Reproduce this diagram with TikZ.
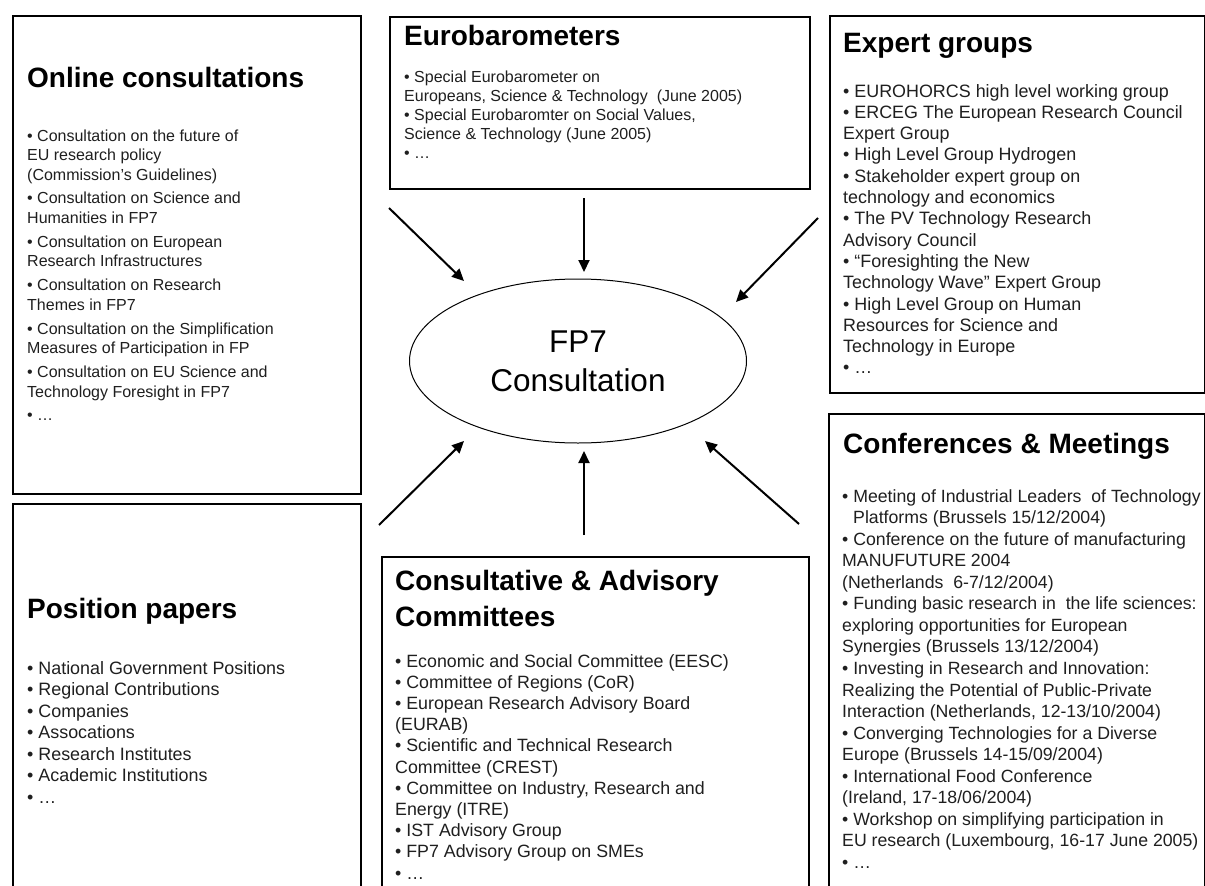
\documentclass[tikz,border=0pt]{standalone}
\usepackage{fontspec}
\setmainfont{Liberation Sans}
\usetikzlibrary{arrows.meta,shapes.geometric}
\newcommand{\mytitle}{\fontsize{28}{36}\selectfont\bfseries}
\tikzset{
  box/.style={draw=black, line width=2.2pt, rectangle, inner sep=0pt, anchor=north west},
  ttl/.style={anchor=base west, inner sep=0pt, font=\mytitle},
  txt/.style={anchor=base west, inner sep=0pt, text=black!88},
  arr/.style={line width=2pt, -{Triangle[length=12pt,width=11pt]}},
}
\begin{document}
\begin{tikzpicture}[x=1pt,y=-1pt]
\useasboundingbox (0,0) rectangle (1205,886);
\clip (0,0) rectangle (1205,886);
\fill[white] (0,0) rectangle (1205,886);

% boxes
\node[box, minimum width=348pt, minimum height=478pt] (online) at (12,15) {};
\node[box, minimum width=348pt, minimum height=397pt] (position) at (12,503) {};
\node[box, minimum width=420pt, minimum height=172pt] (euro) at (389,16) {};
\node[box, minimum width=375pt, minimum height=377pt] (expert) at (829,15) {};
\node[box, minimum width=376pt, minimum height=487pt] (conf) at (828,413) {};
\node[box, minimum width=427pt, minimum height=344pt] (consult) at (381,556) {};

% centre ellipse
\node[ellipse, draw=black, line width=1pt, minimum width=337pt, minimum height=164pt, inner sep=0pt,
      align=center, font=\fontsize{31.5}{39}\selectfont] (fp7) at (578,361) {FP7\\Consultation};

% titles
\node[ttl] (t-online) at (27,87) {Online consultations};
\node[ttl] (t-euro) at (404,45) {Eurobarometers};
\node[ttl] (t-expert) at (843,52) {Expert groups};
\node[ttl] (t-position) at (27,618) {Position papers};
\node[ttl] (t-conf) at (843,453) {Conferences \& Meetings};
\node[ttl] (t-consult) at (395,590) {\parbox[t]{420pt}{\mytitle Consultative \& Advisory\\Committees}};

% bodies
\node[txt] (b-online) at (27,141) {\parbox[t]{330pt}{\raggedright\fontsize{16}{19.5}\selectfont
• Consultation on the future of\\
EU research policy\\
(Commission’s Guidelines)\\[4.4pt]
• Consultation on Science and\\
Humanities in FP7\\[4.4pt]
• Consultation on European\\
Research Infrastructures\\[4.4pt]
• Consultation on Research\\
Themes in FP7\\[4.4pt]
• Consultation on the Simplification\\
Measures of Participation in FP\\[4.4pt]
• Consultation on EU Science and\\
Technology Foresight in FP7\\[4.4pt]
• …}};

\node[txt] (b-euro) at (404,82) {\parbox[t]{400pt}{\raggedright\fontsize{16}{19}\selectfont
• Special Eurobarometer on\\
Europeans, Science \& Technology~ (June 2005)\\
• Special Eurobaromter on Social Values,\\
Science \& Technology (June 2005)\\
• …}};

\node[txt] (b-expert) at (843,97) {\parbox[t]{360pt}{\raggedright\fontsize{17.9}{21.3}\selectfont
• EUROHORCS high level working group\\
• ERCEG The European Research Council\\
Expert Group\\
• High Level Group Hydrogen\\
• Stakeholder expert group on\\
technology and economics\\
• The PV Technology Research\\
Advisory Council\\
• “Foresighting the New\\
Technology Wave” Expert Group\\
• High Level Group on Human\\
Resources for Science and\\
Technology in Europe\\
• …}};

\node[txt] (b-position) at (27,674) {\parbox[t]{330pt}{\raggedright\fontsize{17.9}{21.5}\selectfont
• National Government Positions\\
• Regional Contributions\\
• Companies\\
• Assocations\\
• Research Institutes\\
• Academic Institutions\\
• …}};

\node[txt] (b-consult) at (395,667) {\parbox[t]{410pt}{\raggedright\fontsize{17.8}{21.2}\selectfont
• Economic and Social Committee (EESC)\\
• Committee of Regions (CoR)\\
• European Research Advisory Board\\
(EURAB)\\
• Scientific and Technical Research\\
Committee (CREST)\\
• Committee on Industry, Research and\\
Energy (ITRE)\\
• IST Advisory Group\\
• FP7 Advisory Group on SMEs\\
• …}};

\node[txt] (b-conf) at (842,502) {\parbox[t]{400pt}{\raggedright\fontsize{17.7}{21.56}\selectfont
• Meeting of Industrial Leaders~ of Technology\\
\hspace*{11pt}Platforms (Brussels 15/12/2004)\\
• Conference on the future of manufacturing\\
MANUFUTURE 2004\\
(Netherlands~ 6-7/12/2004)\\
• Funding basic research in~ the life sciences:\\
exploring opportunities for European\\
Synergies (Brussels 13/12/2004)\\
• Investing in Research and Innovation:\\
Realizing the Potential of Public-Private\\
Interaction (Netherlands, 12-13/10/2004)\\
• Converging Technologies for a Diverse\\
Europe (Brussels 14-15/09/2004)\\
• International Food Conference\\
(Ireland, 17-18/06/2004)\\
• Workshop on simplifying participation in\\
EU research (Luxembourg, 16-17 June 2005)\\
• …}};

% arrows
\coordinate (s1) at (389,208); \coordinate (e1) at (464,281);
\coordinate (s2) at (584,198); \coordinate (e2) at (584,272);
\coordinate (s3) at (818,218); \coordinate (e3) at (736,302);
\coordinate (s4) at (379,525); \coordinate (e4) at (464,441);
\coordinate (s5) at (584,535); \coordinate (e5) at (584,451);
\coordinate (s6) at (799,524); \coordinate (e6) at (705,441);
\draw[arr] (s1) -- (e1);
\draw[arr] (s2) -- (e2);
\draw[arr] (s3) -- (e3);
\draw[arr] (s4) -- (e4);
\draw[arr] (s5) -- (e5);
\draw[arr] (s6) -- (e6);
\end{tikzpicture}
\end{document}
